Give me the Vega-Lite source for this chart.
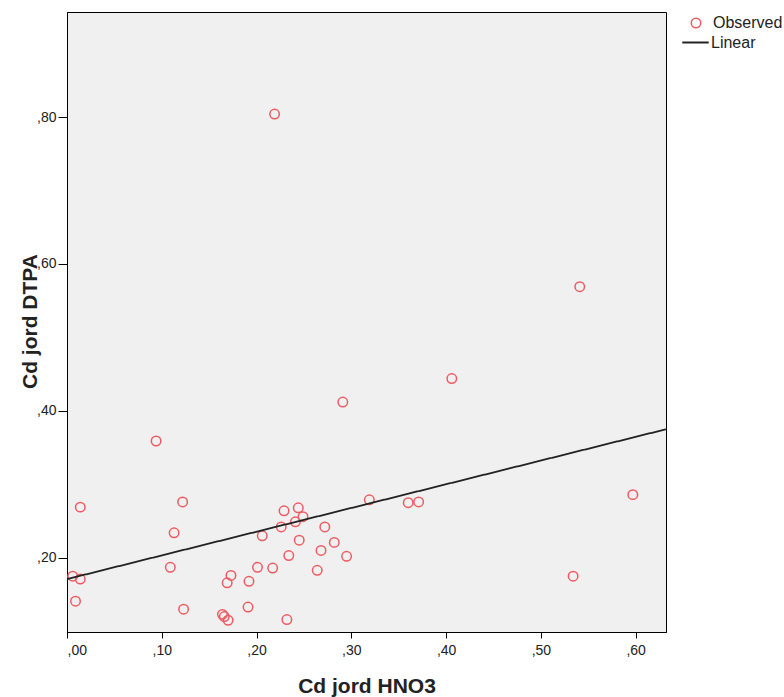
{
  "$schema": "https://vega.github.io/schema/vega-lite/v6.json",
  "width": 599,
  "height": 620,
  "autosize": "none",
  "padding": {"left": 67, "top": 12, "right": 118, "bottom": 65},
  "background": "white",
  "config": {
    "view": {"fill": "#f0f0f0", "stroke": "#000000", "strokeWidth": 1},
    "font": "Liberation Sans",
    "axis": {"grid": false, "domainColor": "#000000", "tickColor": "#000000", "labelColor": "#222222", "labelFontSize": 14, "titleColor": "#222222", "titleFontSize": 21, "titleFontWeight": "bold"}
  },
  "layer": [
    {
      "data": {"values": [
        {"x": 0.006, "y": 0.175, "series": "Observed"},
        {"x": 0.014, "y": 0.171, "series": "Observed"},
        {"x": 0.009, "y": 0.141, "series": "Observed"},
        {"x": 0.014, "y": 0.269, "series": "Observed"},
        {"x": 0.094, "y": 0.359, "series": "Observed"},
        {"x": 0.109, "y": 0.187, "series": "Observed"},
        {"x": 0.113, "y": 0.234, "series": "Observed"},
        {"x": 0.122, "y": 0.276, "series": "Observed"},
        {"x": 0.123, "y": 0.130, "series": "Observed"},
        {"x": 0.164, "y": 0.123, "series": "Observed"},
        {"x": 0.166, "y": 0.120, "series": "Observed"},
        {"x": 0.170, "y": 0.115, "series": "Observed"},
        {"x": 0.169, "y": 0.166, "series": "Observed"},
        {"x": 0.173, "y": 0.176, "series": "Observed"},
        {"x": 0.191, "y": 0.133, "series": "Observed"},
        {"x": 0.192, "y": 0.168, "series": "Observed"},
        {"x": 0.201, "y": 0.187, "series": "Observed"},
        {"x": 0.206, "y": 0.230, "series": "Observed"},
        {"x": 0.217, "y": 0.186, "series": "Observed"},
        {"x": 0.219, "y": 0.804, "series": "Observed"},
        {"x": 0.226, "y": 0.242, "series": "Observed"},
        {"x": 0.229, "y": 0.264, "series": "Observed"},
        {"x": 0.232, "y": 0.116, "series": "Observed"},
        {"x": 0.234, "y": 0.203, "series": "Observed"},
        {"x": 0.241, "y": 0.249, "series": "Observed"},
        {"x": 0.244, "y": 0.268, "series": "Observed"},
        {"x": 0.245, "y": 0.224, "series": "Observed"},
        {"x": 0.249, "y": 0.256, "series": "Observed"},
        {"x": 0.264, "y": 0.183, "series": "Observed"},
        {"x": 0.268, "y": 0.210, "series": "Observed"},
        {"x": 0.272, "y": 0.242, "series": "Observed"},
        {"x": 0.282, "y": 0.221, "series": "Observed"},
        {"x": 0.291, "y": 0.412, "series": "Observed"},
        {"x": 0.295, "y": 0.202, "series": "Observed"},
        {"x": 0.319, "y": 0.279, "series": "Observed"},
        {"x": 0.360, "y": 0.275, "series": "Observed"},
        {"x": 0.371, "y": 0.276, "series": "Observed"},
        {"x": 0.406, "y": 0.444, "series": "Observed"},
        {"x": 0.534, "y": 0.175, "series": "Observed"},
        {"x": 0.541, "y": 0.569, "series": "Observed"},
        {"x": 0.597, "y": 0.286, "series": "Observed"}
      ]},
      "mark": {"type": "point", "filled": false, "size": 90, "strokeWidth": 1.5, "opacity": 1},
      "encoding": {
        "x": {"field": "x", "type": "quantitative", "scale": {"domain": [0, 0.632], "nice": false, "zero": false},
          "axis": {"title": "Cd jord HNO3", "values": [0, 0.1, 0.2, 0.3, 0.4, 0.5, 0.6], "labelExpr": "replace(format(datum.value, '.2f'), '0.', ',')", "tickSize": 6, "labelPadding": 5, "titleBaseline": "alphabetic", "titleY": 60}},
        "y": {"field": "y", "type": "quantitative", "scale": {"domain": [0.099, 0.943], "nice": false, "zero": false},
          "axis": {"title": "Cd jord DTPA", "values": [0.2, 0.4, 0.6, 0.8], "labelExpr": "replace(format(datum.value, '.2f'), '0.', ',')", "tickSize": 9, "labelPadding": 2, "titleAngle": 270, "titleBaseline": "alphabetic", "titleAlign": "center", "titleX": -31, "titleY": 309}},
        "color": {"field": "series", "type": "nominal",
          "scale": {"domain": ["Observed"], "range": ["#ee5a62"]},
          "legend": {"orient": "none", "legendX": 621, "legendY": 3, "title": null, "padding": 0, "symbolType": "circle", "symbolSize": 90, "symbolStrokeWidth": 1.5, "symbolFillColor": "transparent", "labelFontSize": 16, "labelColor": "#222222", "labelOffset": 9}}
      }
    },
    {
      "data": {"values": [
        {"x": 0, "y": 0.171, "series": "Linear"},
        {"x": 0.632, "y": 0.375, "series": "Linear"}
      ]},
      "mark": {"type": "line", "strokeWidth": 1.8, "color": "#222222"},
      "encoding": {
        "x": {"field": "x", "type": "quantitative"},
        "y": {"field": "y", "type": "quantitative"},
        "strokeDash": {"field": "series", "type": "nominal",
          "scale": {"domain": ["Linear"], "range": [[1, 0]]},
          "legend": {"orient": "none", "legendX": 614, "legendY": 16, "title": null, "padding": 0, "symbolType": "stroke", "symbolSize": 700, "symbolStrokeColor": "#222222", "symbolStrokeWidth": 1.8, "labelFontSize": 16, "labelColor": "#222222", "labelOffset": 1}}
      }
    }
  ]
}
